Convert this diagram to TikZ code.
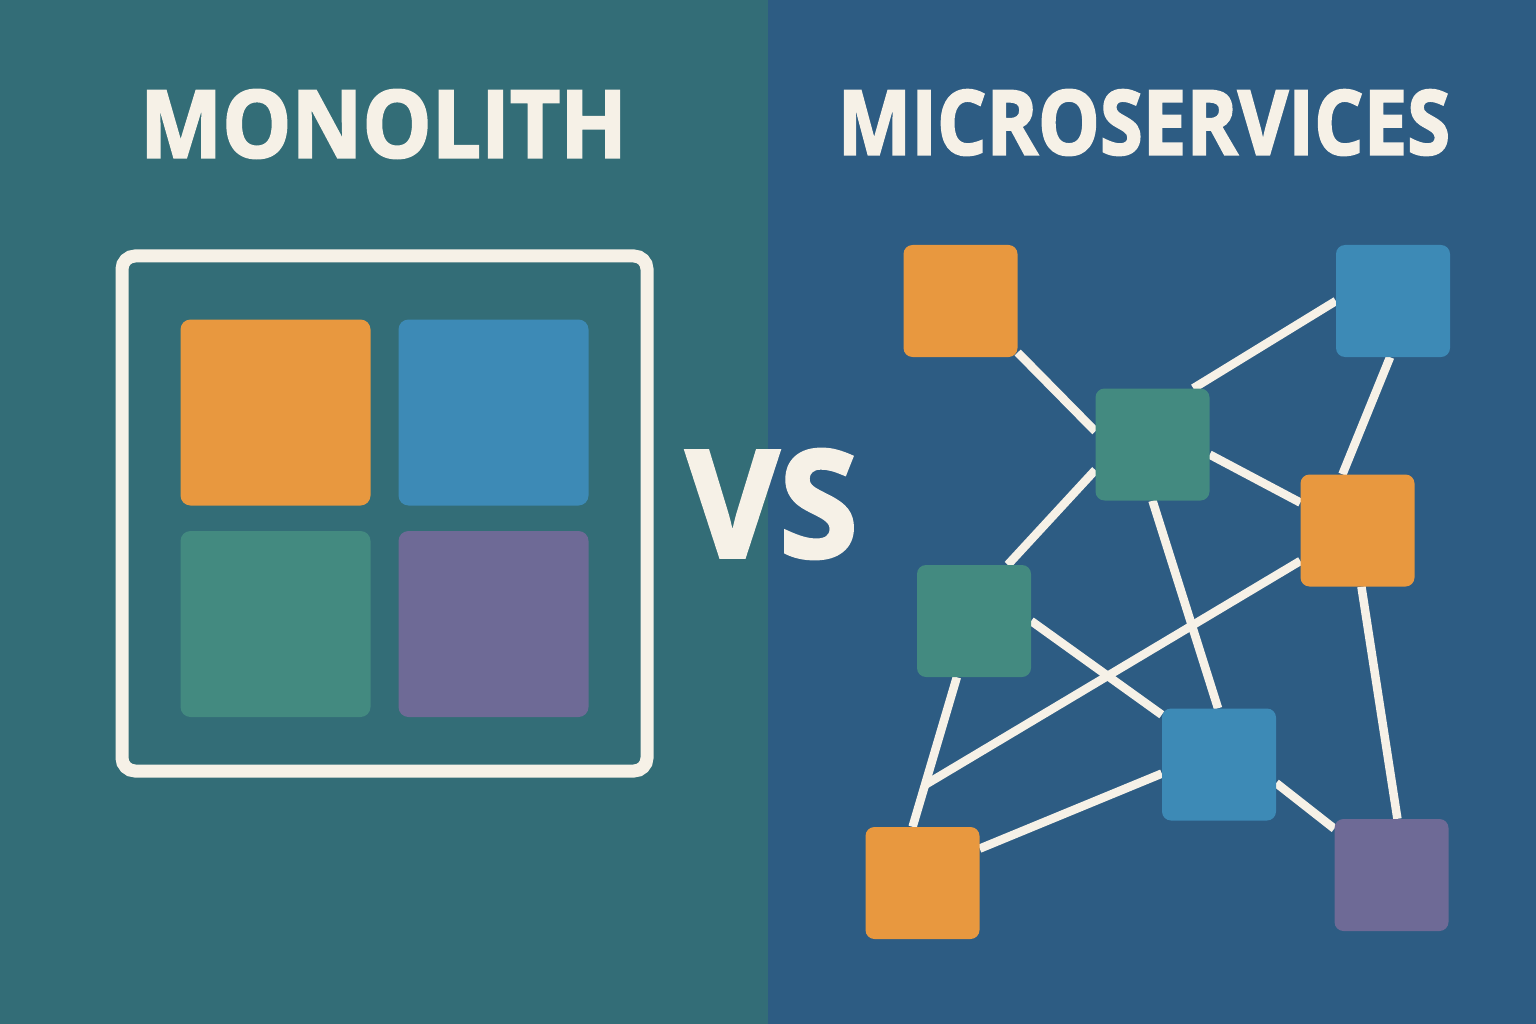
\documentclass[tikz,border=0pt]{standalone}
\usepackage{fontspec}
\setmainfont{Open Sans}[BoldFeatures={FakeBold=2.2}]
\usepackage{graphicx}
\usetikzlibrary{calc}

\definecolor{leftbg}{HTML}{336D77}
\definecolor{rightbg}{HTML}{2D5C83}
\definecolor{cream}{HTML}{F6F1E7}
\definecolor{svcorange}{HTML}{E8983F}
\definecolor{svcblue}{HTML}{3D8AB6}
\definecolor{svcgreen}{HTML}{438A80}
\definecolor{svcpurple}{HTML}{6E6A96}

\pgfdeclarelayer{back}
\pgfdeclarelayer{links}
\pgfsetlayers{back,links,main}

\begin{document}
\begin{tikzpicture}[
        x=1pt, y=-1pt,
        svc_box/.style={
            rounded corners=9pt,
            minimum width=114pt,
            minimum height=112pt,
            inner sep=0pt
        },
        mono_box/.style={
            rounded corners=10pt,
            minimum width=190pt,
            minimum height=186pt,
            inner sep=0pt
        },
        link/.style={
            draw=cream,
            line width=8.5pt
        },
        title_text/.style={
            text=cream,
            font=\bfseries,
            inner sep=0pt
        }
    ]
        \useasboundingbox (0,0) rectangle (1536,1024);

        \begin{pgfonlayer}{back}
            \fill[leftbg] (0,0) rectangle (768,1024);
            \fill[rightbg] (768,0) rectangle (1536,1024);
        \end{pgfonlayer}

        % titles
        \node[title_text] (mono_title) at (383.5,124) {\resizebox{487pt}{68pt}{MONOLITH}};
        \node[title_text] (micro_title) at (1144,122.5) {\resizebox{612pt}{65pt}{MICROSERVICES}};
        \node[title_text] (vs) at (772,504) {\resizebox{172pt}{108pt}{VS}};

        % monolith
        \draw[cream, line width=13pt, rounded corners=13pt] (122,256) rectangle (647,771);
        \node[mono_box, fill=svcorange] (M1) at (275.5,412.5) {};
        \node[mono_box, fill=svcblue] (M2) at (493.5,412.5) {};
        \node[mono_box, fill=svcgreen] (M3) at (275.5,624) {};
        \node[mono_box, fill=svcpurple] (M4) at (493.5,624) {};

        % microservices
        \node[svc_box, fill=svcorange] (O1) at (960.5,301) {};
        \node[svc_box, fill=svcblue] (B1) at (1393,301) {};
        \node[svc_box, fill=svcgreen] (G1) at (1152.5,444.5) {};
        \node[svc_box, fill=svcorange] (O2) at (1357.5,530.5) {};
        \node[svc_box, fill=svcgreen] (G2) at (974,621) {};
        \node[svc_box, fill=svcblue] (B2) at (1219,764.5) {};
        \node[svc_box, fill=svcorange] (O3) at (922.5,883) {};
        \node[svc_box, fill=svcpurple] (P1) at (1391.5,875) {};

        \coordinate (J) at ($(G2.-107)!0.72!(O3.100)$);

        \begin{pgfonlayer}{links}
            \draw[link] (O1.-42) -- (G1.167);
            \draw[link] (B1.west) -- (G1.54);
            \draw[link] (B1.-93) -- (O2.105);
            \draw[link] (G1.-10) -- (O2.154);
            \draw[link] (G1.-156) -- (G2.59);
            \draw[link] (G1.-90) -- (B2.91);
            \draw[link] (O2.-152) -- (J);
            \draw[link] (G2.east) -- (B2.139);
            \draw[link] (G2.-107) -- (O3.100);
            \draw[link] (O3.31) -- (B2.-171);
            \draw[link] (B2.-18) -- (P1.141);
            \draw[link] (O2.-86) -- (P1.84);
        \end{pgfonlayer}
    \end{tikzpicture}
\end{document}
